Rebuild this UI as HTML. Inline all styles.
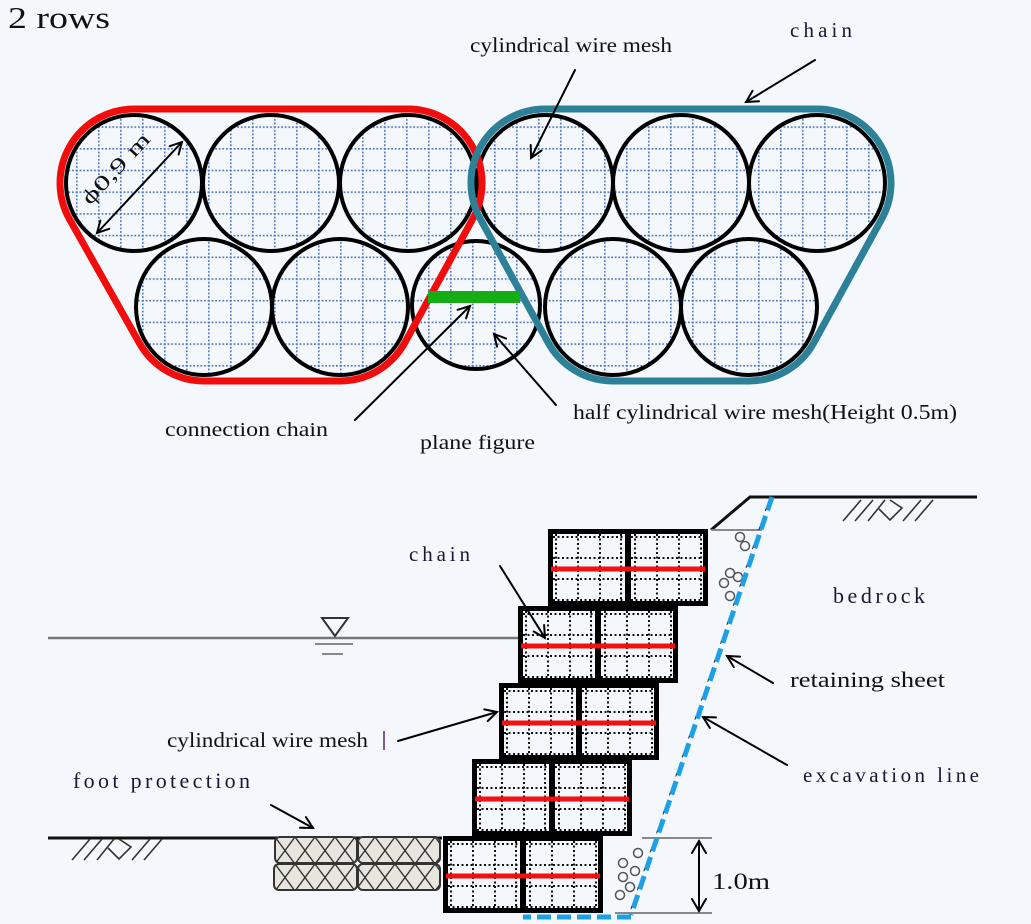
<!DOCTYPE html>
<html><head><meta charset="utf-8"><style>
html,body{margin:0;padding:0;background:#f4f7fb;}
svg{display:block;}
text{font-family:"Liberation Serif",serif;}
</style></head><body>
<svg width="1031" height="924" viewBox="0 0 1031 924" xmlns="http://www.w3.org/2000/svg">
<defs>
<pattern id="grid" patternUnits="userSpaceOnUse" x="10" y="17.8" width="22" height="21.7">
<line x1="0.8" y1="0" x2="0.8" y2="21.7" stroke="#4d76bf" stroke-width="1.6" stroke-dasharray="1.8 1.8"/>
<line x1="0" y1="0.8" x2="22" y2="0.8" stroke="#4d76bf" stroke-width="1.6" stroke-dasharray="1.8 1.8"/>
</pattern>
<pattern id="xh" patternUnits="userSpaceOnUse" x="275" y="837" width="20" height="27">
<rect width="20" height="27" fill="#e6e6df"/>
<line x1="0" y1="0" x2="20" y2="27" stroke="#333" stroke-width="1.4"/>
<line x1="20" y1="0" x2="0" y2="27" stroke="#333" stroke-width="1.4"/>
</pattern>
<g id="box">
<g stroke="#111" stroke-width="2" stroke-dasharray="2 2.5" fill="none">
<line x1="8" y1="5" x2="8" y2="72"/><line x1="30" y1="5" x2="30" y2="72"/><line x1="52" y1="5" x2="52" y2="72"/><line x1="73" y1="5" x2="73" y2="72"/>
<line x1="87" y1="5" x2="87" y2="72"/><line x1="109" y1="5" x2="109" y2="72"/><line x1="131" y1="5" x2="131" y2="72"/><line x1="153" y1="5" x2="153" y2="72"/>
<line x1="5" y1="8" x2="77" y2="8"/><line x1="5" y1="29" x2="77" y2="29"/><line x1="5" y1="50" x2="77" y2="50"/><line x1="5" y1="71" x2="77" y2="71"/>
<line x1="83" y1="8" x2="155" y2="8"/><line x1="83" y1="29" x2="155" y2="29"/><line x1="83" y1="50" x2="155" y2="50"/><line x1="83" y1="71" x2="155" y2="71"/>
</g>
<rect x="2.5" y="2.5" width="155" height="72" fill="none" stroke="#000" stroke-width="5"/>
<rect x="77" y="0" width="6" height="77" fill="#000"/>
<line x1="3" y1="40" x2="157" y2="40" stroke="#f21010" stroke-width="5"/>
</g>
</defs>

<!-- title -->
<text x="8" y="28" font-size="31" fill="#111" textLength="102" lengthAdjust="spacingAndGlyphs">2 rows</text>

<!-- top circles -->
<g fill="url(#grid)" stroke="#000" stroke-width="4">
<circle cx="476" cy="305" r="64"/>
<circle cx="134" cy="183" r="68"/>
<circle cx="271" cy="183" r="68"/>
<circle cx="408" cy="183" r="68"/>
<circle cx="204" cy="307" r="68"/>
<circle cx="340" cy="307" r="68"/>
<circle cx="545" cy="183" r="68"/>
<circle cx="681" cy="183" r="68"/>
<circle cx="817" cy="183" r="68"/>
<circle cx="613" cy="307" r="68"/>
<circle cx="749" cy="307" r="68"/>
</g>

<!-- chains -->
<path d="M134,109 L408,109 A74,74 0 0 1 472.9,218.6 L404.9,342.6 A74,74 0 0 1 340,381 L204,381 A74,74 0 0 1 139.6,343.4 L69.6,219.4 A74,74 0 0 1 134,109 Z" fill="none" stroke="#f20d0d" stroke-width="7"/>
<path d="M545,109 L817,109 A74,74 0 0 1 881.9,218.6 L813.9,342.6 A74,74 0 0 1 749,381 L613,381 A74,74 0 0 1 548.1,342.6 L480.1,218.6 A74,74 0 0 1 545,109 Z" fill="none" stroke="#2c8098" stroke-width="7"/>

<rect x="428" y="291" width="92" height="12" fill="#14ad14"/>

<!-- top arrows -->
<g stroke="#000" stroke-width="2" fill="none" stroke-linecap="round">
<line x1="97" y1="233" x2="182" y2="142"/>
<polyline points="169.7,146.2 182,142 178.6,154.5"/>
<polyline points="109.3,228.8 97,233 100.4,220.5"/>
<line x1="575" y1="70" x2="531" y2="158"/>
<polyline points="541.6,150.5 531,158 530.7,145"/>
<line x1="815" y1="60" x2="746" y2="102"/>
<polyline points="759,101.2 746,102 752.6,90.8"/>
<line x1="355" y1="420" x2="470" y2="306"/>
<polyline points="457.6,309.8 470,306 466.1,318.4"/>
<line x1="556" y1="405" x2="494" y2="334"/>
<polyline points="497,346.6 494,334 506.1,338.6"/>
</g>

<text transform="translate(90,206) rotate(-47)" font-size="21" fill="#111" textLength="90" lengthAdjust="spacingAndGlyphs">ϕ0,9 m</text>

<!-- top labels -->
<text x="470" y="52" font-size="21" fill="#111" textLength="202" lengthAdjust="spacingAndGlyphs">cylindrical wire mesh</text>
<text x="790" y="37" font-size="21" fill="#151a33" textLength="62" lengthAdjust="spacing">chain</text>
<text x="165" y="436" font-size="20" fill="#111" textLength="163" lengthAdjust="spacingAndGlyphs">connection chain</text>
<text x="420" y="449" font-size="20" fill="#111" textLength="115" lengthAdjust="spacingAndGlyphs">plane figure</text>
<text x="573" y="419" font-size="21" fill="#111" textLength="384" lengthAdjust="spacingAndGlyphs">half cylindrical wire mesh(Height 0.5m)</text>

<!-- bottom: ground and water -->
<line x1="48" y1="638" x2="520" y2="638" stroke="#777" stroke-width="2.5"/>
<polygon points="322,618 348,618 335,636" fill="none" stroke="#333" stroke-width="2"/>
<line x1="315" y1="644" x2="353" y2="644" stroke="#888" stroke-width="2"/>
<line x1="322" y1="654" x2="343" y2="654" stroke="#888" stroke-width="2"/>

<line x1="48" y1="838" x2="442" y2="838" stroke="#111" stroke-width="3"/>
<g id="hatch" stroke="#333" stroke-width="1.6" fill="none">
<line x1="72" y1="860" x2="90" y2="839"/>
<line x1="84" y1="860" x2="102" y2="839"/>
<line x1="97" y1="860" x2="114" y2="839"/>
<polyline points="108,848 119,859 131,847 119,839"/>
<line x1="132" y1="860" x2="150" y2="839"/>
<line x1="144" y1="860" x2="162" y2="839"/>
</g>
<use href="#hatch" transform="translate(771,-339)"/>

<polyline points="711,530 750,497 977,497" fill="none" stroke="#111" stroke-width="3"/>
<line x1="711" y1="530" x2="762" y2="530" stroke="#888" stroke-width="2"/>

<line x1="642" y1="838" x2="712" y2="838" stroke="#888" stroke-width="2"/>
<line x1="615" y1="913" x2="712" y2="913" stroke="#888" stroke-width="2"/>

<!-- boxes -->
<use href="#box" x="548" y="529"/>
<use href="#box" x="518" y="606"/>
<use href="#box" x="499" y="683"/>
<use href="#box" x="472" y="759"/>
<use href="#box" x="443" y="836"/>

<!-- foot protection -->
<g stroke="#333" stroke-width="2" fill="url(#xh)">
<rect x="275" y="837" width="82" height="26" rx="5"/>
<rect x="358" y="837" width="82" height="26" rx="5"/>
<rect x="274" y="864" width="83" height="26" rx="5"/>
<rect x="358" y="864" width="82" height="26" rx="5"/>
</g>

<!-- pebbles -->
<g fill="none" stroke="#555" stroke-width="1.5">
<circle cx="740" cy="537" r="4.5"/><circle cx="745" cy="546" r="4.5"/>
<circle cx="730" cy="573" r="4.5"/><circle cx="738" cy="577" r="4.5"/>
<circle cx="724" cy="583" r="4.5"/><circle cx="730" cy="596" r="4.5"/>
<circle cx="638" cy="853" r="4.5"/><circle cx="623" cy="863" r="4.5"/>
<circle cx="635" cy="871" r="4.5"/><circle cx="623" cy="877" r="4.5"/>
<circle cx="630" cy="887" r="4.5"/><circle cx="620" cy="895" r="4.5"/>
</g>

<!-- retaining sheet -->
<line x1="772" y1="497" x2="631" y2="915" stroke="#1ea0e6" stroke-width="5" stroke-dasharray="14 6"/>
<line x1="631" y1="917" x2="523" y2="917" stroke="#1ea0e6" stroke-width="5" stroke-dasharray="14 6"/>
<line x1="770" y1="497" x2="629" y2="915" stroke="#333" stroke-width="1" stroke-dasharray="3 17" stroke-dashoffset="8"/>

<!-- bottom arrows -->
<g stroke="#000" stroke-width="2" fill="none" stroke-linecap="round">
<line x1="500" y1="566" x2="545" y2="638"/>
<polyline points="544.1,625 545,638 533.7,631.5"/>
<line x1="398" y1="741" x2="497" y2="712"/>
<polyline points="484.3,709.4 497,712 487.7,721.1"/>
<line x1="773" y1="683" x2="727" y2="656"/>
<polyline points="733.8,667.1 727,656 740,656.6"/>
<line x1="787" y1="765" x2="703" y2="717"/>
<polyline points="709.9,728 703,717 716,717.4"/>
<line x1="271" y1="805" x2="313" y2="828"/>
<polyline points="305.9,817.1 313,828 300,827.8"/>
<line x1="699" y1="841" x2="699" y2="911"/>
<polyline points="692,853 699,841 706,853"/>
<polyline points="692,899 699,911 706,899"/>
</g>

<!-- bottom labels -->
<text x="409" y="561" font-size="21" fill="#151a33" textLength="61" lengthAdjust="spacing">chain</text>
<text x="833" y="603" font-size="22" fill="#151a33" textLength="92" lengthAdjust="spacing">bedrock</text>
<text x="790" y="687" font-size="22" fill="#111" textLength="155" lengthAdjust="spacingAndGlyphs">retaining sheet</text>
<text x="803" y="782" font-size="21" fill="#151a33" textLength="176" lengthAdjust="spacing">excavation line</text>
<text x="167" y="747" font-size="21" fill="#111" textLength="201" lengthAdjust="spacingAndGlyphs">cylindrical wire mesh</text>
<line x1="384" y1="731" x2="384" y2="750" stroke="#7a5a9a" stroke-width="2"/>
<text x="73" y="788" font-size="22" fill="#151a33" textLength="177" lengthAdjust="spacing">foot protection</text>
<text x="712" y="889" font-size="23" fill="#111" textLength="58" lengthAdjust="spacingAndGlyphs">1.0m</text>
</svg>
</body></html>
